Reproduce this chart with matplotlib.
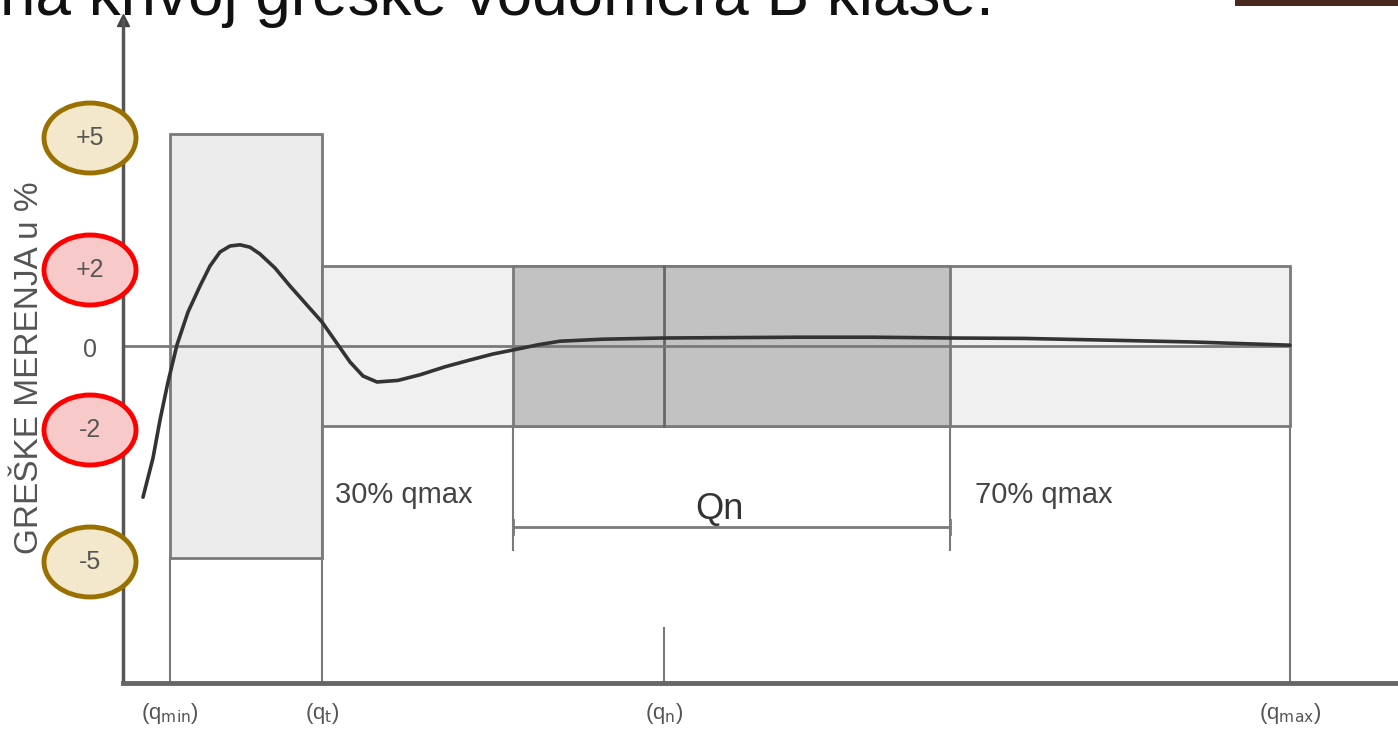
import matplotlib.pyplot as plt
from matplotlib.patches import Rectangle, Ellipse

plt.rcParams['font.family'] = ['Liberation Sans', 'DejaVu Sans']

# flow positions (diagram units, 0 = y axis) and error levels in %
flow_names = ['(q$_{\\mathrm{min}}$)', '(q$_{\\mathrm{t}}$)', '(q$_{\\mathrm{n}}$)', '(q$_{\\mathrm{max}}$)']
flow_pos = [47, 199, 541, 1167]
zone_30 = 390      # 30% qmax
zone_70 = 827      # 70% qmax
lower_lim = 5.3    # drawn height of the +-5 % zone
mid_lim = 2.0      # +-2 % zone
tick_pos = [5.3, 2, 0, -2, -5.3]
tick_txt = ['+5', '+2', '0', '-2', '-5']
ring_edge = ['#9a7000', 'red', 'red', '#9a7000']
ring_fill = ['#f3e7cc', '#f8c9c9', '#f8c9c9', '#f3e7cc']
ring_pos = [5.2, 1.9, -2.1, -5.4]

# error curve
cx = [20, 30, 37, 45, 54, 65, 77, 87, 97, 107, 117, 127, 137, 152, 167, 183, 199, 213, 227,
      240, 254, 275, 297, 322, 347, 370, 390, 415, 437, 480, 541, 610, 677, 750, 827, 900, 977, 1070, 1167]
cy = [-3.78, -2.8, -1.85, -0.9, 0.03, 0.85, 1.5, 2.0, 2.35, 2.5, 2.53, 2.47, 2.3, 1.95, 1.5, 1.05, 0.6, 0.1, -0.4,
      -0.75, -0.9, -0.86, -0.72, -0.52, -0.35, -0.2, -0.1, 0.03, 0.12, 0.17, 0.2, 0.21, 0.22, 0.22, 0.2, 0.19, 0.15, 0.1, 0.02]

fig = plt.figure(figsize=(13.98, 7.32), dpi=100)
ax = fig.add_axes([123 / 1398, 49 / 732, 1275 / 1398, 663 / 732])
ax.set_xlim(0, 1275)
ax.set_ylim(-8.425, 8.15)
for s in ['top', 'right']:
    ax.spines[s].set_visible(False)
ax.spines['bottom'].set_linewidth(3.5)
ax.spines['bottom'].set_color('#666666')
ax.spines['left'].set_linewidth(2.5)
ax.spines['left'].set_color('#555555')
ax.set_xticks([])
ax.set_yticks([])
ax.plot([0], [8.15], marker='^', color='#444444', ms=9, clip_on=False)

grey = '#7a7a7a'
qmin, qt, qn, qmax = flow_pos
# zones
ax.add_patch(Rectangle((qmin, -lower_lim), qt - qmin, 2 * lower_lim, fc='#ececec', ec=grey, lw=2))
ax.add_patch(Rectangle((qt, -mid_lim), qmax - qt, 2 * mid_lim, fc='#f0f0f0', ec=grey, lw=2))
ax.add_patch(Rectangle((zone_30, -mid_lim), zone_70 - zone_30, 2 * mid_lim, fc='#c2c2c2', ec=grey, lw=2))
ax.plot([qn, qn], [-mid_lim, mid_lim], color='#666666', lw=2)
ax.plot([0, qmax], [0, 0], color=grey, lw=2)

# vertical guide lines down to the axis
ax.plot([qmin, qmin], [-8.425, -lower_lim], color=grey, lw=1.5)
ax.plot([qt, qt], [-8.425, -mid_lim], color=grey, lw=1.5)
ax.plot([qn, qn], [-8.425, -7.05], color=grey, lw=1.5)
ax.plot([qmax, qmax], [-8.425, -mid_lim], color=grey, lw=1.5)
ax.plot([zone_30, zone_30], [-mid_lim, -5.1], color=grey, lw=1.5)
ax.plot([zone_70, zone_70], [-mid_lim, -5.1], color=grey, lw=1.5)
ax.plot([zone_30, zone_70], [-4.52, -4.52], color=grey, lw=2)
for xx in [zone_30, zone_70]:
    ax.plot([xx, xx], [-4.35, -4.7], color=grey, lw=2)

ax.plot(cx, cy, color='#333333', lw=2.6, solid_capstyle='round', solid_joinstyle='round', zorder=5)

ax.text(qt + 13, -3.72, '30% qmax', ha='left', va='center', fontsize=21, color='#444444')
ax.text((zone_30 + zone_70) / 2 - 12, -4.1, 'Qn', ha='center', va='center', fontsize=26, color='#333333')
ax.text(zone_70 + 25, -3.72, '70% qmax', ha='left', va='center', fontsize=21, color='#444444')

# y tick labels with rings
for e, f, p in zip(ring_edge, ring_fill, ring_pos):
    ax.add_patch(Ellipse((-33, p), 92, 1.75, fc=f, ec=e, lw=3.5, clip_on=False, zorder=6))
for p, t in zip(tick_pos, tick_txt):
    ax.text(-33, p - 0.1, t, ha='center', va='center', fontsize=18, color='#555555', zorder=7, clip_on=False)

ax.text(-93, -0.55, 'GREŠKE MERENJA u %', rotation=90, ha='center', va='center',
        fontsize=24, color='#555555', clip_on=False)

for n, p in zip(flow_names, flow_pos):
    ax.text(p, -9.2, n, ha='center', va='center', fontsize=16, color='#555555', clip_on=False)

fig.text(0.0, 732 - 15, 'na krivoj greške vodomera B klase.', transform=None,
         ha='left', va='baseline', fontsize=46, color='#111111')
fig.patches.append(Rectangle((1235 / 1398, 726 / 732), 163 / 1398, 6 / 732, transform=fig.transFigure,
                             fc='#4a2a20', ec='none'))

fig.savefig('out.png', dpi=100)
